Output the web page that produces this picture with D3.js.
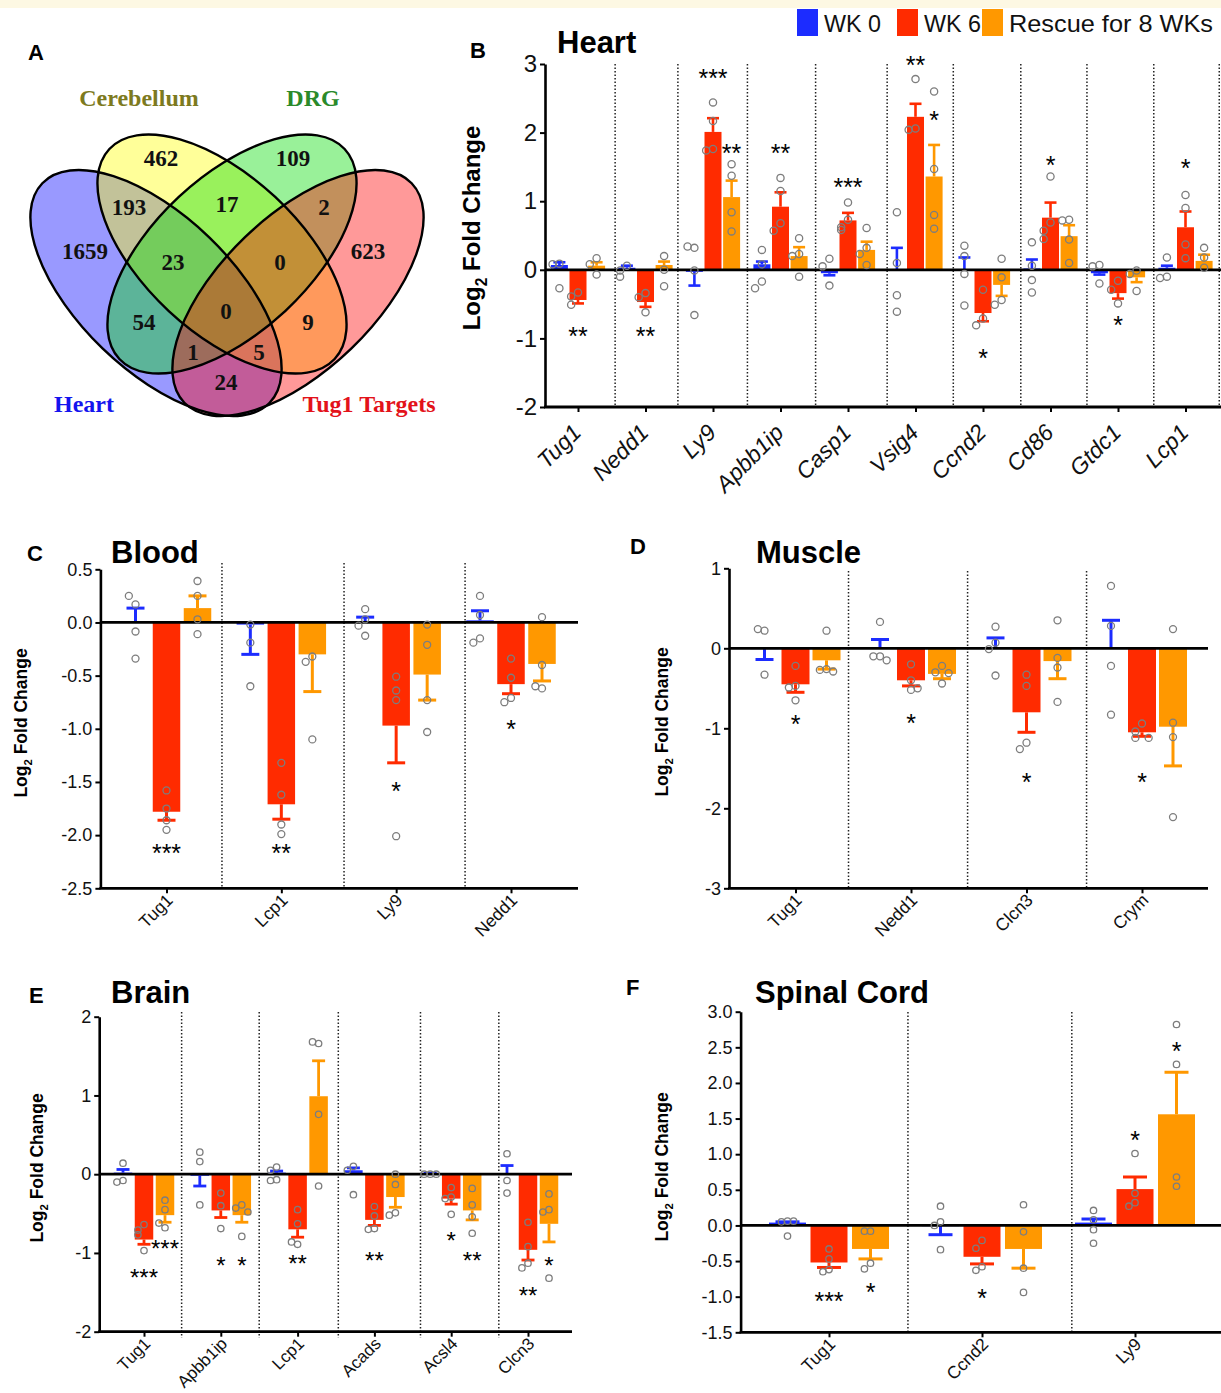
<!DOCTYPE html>
<html>
<head>
<meta charset="utf-8">
<script src="https://cdn.jsdelivr.net/npm/d3@7"></script>
<style>
  body { margin: 0; background: #fff; }
  svg { display: block; font-family: "Liberation Sans", Arial, sans-serif; }
</style>
</head>
<body>
<svg id="fig" width="1221" height="1393"></svg>
<script>
// ---------- shared ----------
var seriesNames = ["WK 0", "WK 6", "Rescue for 8 WKs"];
var seriesColors = ["#1c2cff", "#ff2b00", "#ff9800"];

// ---------- A: Venn ----------
var vennSets = ["Heart", "Cerebellum", "DRG", "Tug1 Targets"];
var vennRegions = ["H", "C", "D", "T", "HC", "CD", "DT", "HCD", "CDT", "HCDT", "HD", "CT", "HDT", "HCT", "HT"];
var vennCounts = [1659, 462, 109, 623, 193, 17, 2, 23, 0, 0, 54, 9, 1, 5, 24];

// ---------- B: Heart ----------
var heartGenes = ["Tug1", "Nedd1", "Ly9", "Apbb1ip", "Casp1", "Vsig4", "Ccnd2", "Cd86", "Gtdc1", "Lcp1"];
var heartWk0 = [0.07, 0.03, -0.03, 0.08, -0.05, 0.01, 0.01, 0.02, -0.05, 0.03];
var heartWk0Err = [0.11, 0.06, -0.23, 0.12, -0.08, 0.32, 0.18, 0.15, -0.07, 0.06];
var heartWk6 = [-0.44, -0.47, 2.01, 0.92, 0.72, 2.23, -0.63, 0.76, -0.34, 0.62];
var heartWk6Err = [-0.49, -0.54, 2.21, 1.13, 0.83, 2.42, -0.75, 0.98, -0.42, 0.85];
var heartRescue = [0.06, 0.07, 1.06, 0.20, 0.29, 1.36, -0.22, 0.49, -0.11, 0.13];
var heartRescueErr = [0.11, 0.12, 1.30, 0.33, 0.41, 1.82, -0.38, 0.65, -0.18, 0.22];
var heartWk0Dots = [[0.09, 0.08, -0.27], [0.06, -0.01, -0.10], [0.32, 0.34, -0.01, -0.66], [0.29, -0.17, -0.27, 0.08],
  [0.16, 0.05, -0.23], [0.84, 0.10, -0.37, -0.61], [0.35, 0.20, -0.06, -0.52], [0.40, 0.06, -0.15, -0.33],
  [0.07, 0.05, -0.20], [0.18, -0.10, -0.12]];
var heartWk6Dots = [[-0.33, -0.39, -0.51], [-0.34, -0.40, -0.62], [2.44, 2.17, 1.76, 1.74], [1.34, 1.15, 0.68, 0.57],
  [0.98, 0.73, 0.62, 0.58], [2.78, 2.06, 2.04], [-0.29, -0.71, -0.81], [1.36, 0.69, 0.57, 0.45],
  [-0.16, -0.29, -0.49], [1.09, 0.90, 0.37, 0.17]];
var heartRescueDots = [[0.17, 0.08, -0.07], [0.20, 0.00, -0.24], [1.54, 1.37, 0.84, 0.56], [0.46, 0.23, 0.20, -0.10],
  [0.61, 0.32, 0.23, 0.07], [2.60, 1.47, 0.80, 0.60], [0.16, -0.11, -0.44, -0.51], [0.73, 0.72, 0.44, 0.10],
  [-0.01, -0.06, -0.31], [0.32, 0.18, 0.03]];
// [gene index, series index, label, value]
var heartStars = [[0, 1, "**", -0.89], [1, 1, "**", -0.89], [2, 1, "***", 2.87], [2, 2, "**", 1.77], [3, 1, "**", 1.77],
  [4, 1, "***", 1.27], [5, 1, "**", 3.06], [5, 2, "*", 2.26], [6, 1, "*", -1.22], [7, 1, "*", 1.60], [8, 1, "*", -0.73], [9, 1, "*", 1.55]];
var heartSeparators = [0.55, 1.48, 2.51, 3.52, 4.58, 5.56, 6.56, 7.54, 8.53, 9.5];

// ---------- C: Blood ----------
var bloodGenes = ["Tug1", "Lcp1", "Ly9", "Nedd1"];
var bloodWk0 = [0.005, -0.02, 0.005, 0.02];
var bloodWk0Err = [0.135, -0.30, 0.05, 0.11];
var bloodWk6 = [-1.78, -1.71, -0.97, -0.58];
var bloodWk6Err = [-1.86, -1.85, -1.32, -0.67];
var bloodRescue = [0.135, -0.30, -0.49, -0.39];
var bloodRescueErr = [0.25, -0.65, -0.73, -0.55];
var bloodWk0Dots = [[0.17, 0.25, -0.085, -0.34], [-0.02, -0.19, -0.60], [0.125, 0.03, -0.03, -0.125], [0.25, 0.07, -0.15, -0.19]];
var bloodWk6Dots = [[-1.58, -1.75, -1.86, -1.95], [-1.32, -1.62, -1.90, -1.99], [-0.51, -0.64, -0.73, -2.01], [-0.34, -0.52, -0.71, -0.75]];
var bloodRescueDots = [[0.39, 0.25, 0.03, -0.11], [-0.32, -0.37, -1.10], [-0.02, -0.21, -0.73, -1.03], [0.05, -0.40, -0.62, -0.60]];
var bloodStars = [[0, 1, "***", -2.12], [1, 1, "**", -2.12], [2, 1, "*", -1.54], [3, 1, "*", -0.96]];
var bloodSeparators = [0.483, 1.546, 2.6];

// ---------- D: Muscle ----------
var muscleGenes = ["Tug1", "Nedd1", "Clcn3", "Crym"];
var muscleWk0 = [-0.01, 0.005, 0.005, 0.005];
var muscleWk0Err = [-0.14, 0.11, 0.13, 0.35];
var muscleWk6 = [-0.45, -0.40, -0.80, -1.05];
var muscleWk6Err = [-0.55, -0.47, -1.05, -1.10];
var muscleRescue = [-0.15, -0.32, -0.16, -0.98];
var muscleRescueErr = [-0.26, -0.38, -0.38, -1.47];
var muscleWk0Dots = [[0.22, 0.24, -0.33], [0.33, -0.10, -0.10, -0.15], [0.27, 0.07, -0.01, -0.34], [0.78, 0.28, -0.22, -0.83]];
var muscleWk6Dots = [[-0.22, -0.47, -0.49, -0.65], [-0.20, -0.40, -0.52, -0.50], [-0.33, -0.47, -1.18, -1.26], [-0.94, -1.04, -1.12, -1.12]];
var muscleRescueDots = [[0.22, -0.26, -0.27, -0.29], [-0.22, -0.30, -0.31, -0.44], [0.35, -0.12, -0.24, -0.67], [0.24, -0.93, -1.11, -2.11]];
var muscleStars = [[0, 1, "*", -0.89], [1, 1, "*", -0.88], [2, 1, "*", -1.61], [3, 1, "*", -1.61]];
var muscleSeparators = [0.459, 1.49, 2.52];

// ---------- E: Brain ----------
var brainGenes = ["Tug1", "Apbb1ip", "Lcp1", "Acads", "Acsl4", "Clcn3"];
var brainWk0 = [0.02, -0.02, 0.02, 0.05, 0.005, 0.005];
var brainWk0Err = [0.06, -0.15, 0.04, 0.08, 0.01, 0.11];
var brainWk6 = [-0.83, -0.46, -0.70, -0.58, -0.31, -0.96];
var brainWk6Err = [-0.89, -0.55, -0.80, -0.65, -0.38, -1.09];
var brainRescue = [-0.52, -0.52, 0.99, -0.29, -0.46, -0.63];
var brainRescueErr = [-0.61, -0.61, 1.44, -0.42, -0.58, -0.86];
var brainWk0Dots = [[0.14, -0.08, -0.10], [0.16, 0.28, -0.39], [0.09, 0.05, -0.07, -0.08], [0.10, 0.05, -0.26], [0.0, 0.0, 0.0], [0.26, -0.08, -0.24]];
var brainWk6Dots = [[-0.64, -0.71, -0.77, -0.97], [-0.24, -0.40, -0.69], [-0.45, -0.63, -0.89, -0.86], [-0.41, -0.53, -0.69, -0.70],
  [-0.17, -0.29, -0.31, -0.51], [-0.61, -0.92, -1.13, -1.19]];
var brainRescueDots = [[-0.33, -0.45, -0.68, -0.62], [-0.39, -0.43, -0.48, -0.79], [1.66, 1.68, 0.76, -0.15], [0.0, -0.13, -0.49, -0.52],
  [-0.18, -0.39, -0.54, -0.75], [-0.25, -0.45, -0.48, -1.32]];
var brainStars = [[0, 1, "***", -1.25], [0, 2, "***", -0.88], [1, 1, "*", -1.10], [1, 2, "*", -1.10], [2, 1, "**", -1.08],
  [3, 1, "**", -1.03], [4, 1, "*", -0.78], [4, 2, "**", -1.03], [5, 1, "**", -1.48], [5, 2, "*", -1.10]];
var brainSeparators = [0.49, 1.50, 2.53, 3.60, 4.62];

// ---------- F: Spinal Cord ----------
var spinalGenes = ["Tug1", "Ccnd2", "Ly9"];
var spinalWk0 = [0.04, -0.01, 0.04];
var spinalWk0Err = [0.05, -0.13, 0.09];
var spinalWk6 = [-0.52, -0.44, 0.51];
var spinalWk6Err = [-0.59, -0.54, 0.68];
var spinalRescue = [-0.33, -0.33, 1.56];
var spinalRescueErr = [-0.47, -0.60, 2.15];
var spinalWk0Dots = [[0.06, 0.05, 0.06, -0.15], [0.27, 0.05, 0.0, -0.34], [0.21, 0.08, -0.06, -0.25]];
var spinalWk6Dots = [[-0.33, -0.47, -0.62, -0.65], [-0.21, -0.32, -0.58, -0.63], [1.01, 0.45, 0.32, 0.27]];
var spinalRescueDots = [[-0.08, -0.08, -0.53, -0.61], [0.29, -0.09, -0.60, -0.94], [2.82, 2.26, 0.68, 0.55]];
var spinalStars = [[0, 1, "***", -1.0], [0, 2, "*", -0.87], [1, 1, "*", -0.95], [2, 1, "*", 1.27], [2, 2, "*", 2.52]];
var spinalSeparators = [0.516, 1.587];

var locale = d3.formatLocale({decimal: ".", thousands: ",", grouping: [3], currency: ["", ""], minus: "-"});
var svg = d3.select("#fig");

// pale strip along the top edge
svg.append("rect").attr("x", 0).attr("y", 0).attr("width", 1221).attr("height", 8).attr("fill", "#fdf8e3");

function panelLetter(x, y, t) {
  svg.append("text").attr("x", x).attr("y", y).attr("font-size", 22).attr("font-weight", "bold").text(t);
}

/**
 * Draws the Venn diagram of panel A.
 */
function drawVenn() {
  panelLetter(28, 60, "A");
  var ellipses = [
    {cx: 156, cy: 293, rx: 158, ry: 77, angle: 44, fill: "#0000ff"},
    {cx: 222, cy: 254, rx: 154, ry: 78, angle: 43, fill: "#ffff00"},
    {cx: 232, cy: 254, rx: 154, ry: 78, angle: 137, fill: "#00dd00"},
    {cx: 298, cy: 293, rx: 158, ry: 77, angle: 136, fill: "#ff0000"}
  ];
  var labelPos = [[84, 404, "#1414ee"], [139, 98, "#7d7a1e"], [313, 98, "#2a8a2a"], [369, 404, "#e3121a"]];
  var regionPos = {H: [85, 251], C: [161, 158], D: [293, 158], T: [368, 251], HC: [129, 207], CD: [227, 204], DT: [324, 207],
    HCD: [173, 262], CDT: [280, 262], HCDT: [226, 311], HD: [144, 322], CT: [308, 322], HDT: [193, 352], HCT: [259, 352], HT: [226, 382]};

  var g = svg.append("g");
  g.selectAll(".venn-fill").data(ellipses).join("ellipse")
    .attr("class", "venn-fill")
    .attr("transform", d => `translate(${d.cx},${d.cy}) rotate(${d.angle})`)
    .attr("rx", d => d.rx).attr("ry", d => d.ry)
    .attr("fill", d => d.fill).attr("fill-opacity", 0.4);
  g.selectAll(".venn-line").data(ellipses).join("ellipse")
    .attr("class", "venn-line")
    .attr("transform", d => `translate(${d.cx},${d.cy}) rotate(${d.angle})`)
    .attr("rx", d => d.rx).attr("ry", d => d.ry)
    .attr("fill", "none").attr("stroke", "#000").attr("stroke-width", 2.4);

  g.selectAll(".venn-count").data(vennRegions).join("text")
    .attr("x", d => regionPos[d][0]).attr("y", d => regionPos[d][1] + 8)
    .attr("text-anchor", "middle")
    .attr("font-family", "'Liberation Serif', 'Times New Roman', serif")
    .attr("font-weight", "bold").attr("font-size", 23).attr("fill", "#111")
    .text((d, i) => vennCounts[i]);

  g.selectAll(".venn-set").data(vennSets).join("text")
    .attr("x", (d, i) => labelPos[i][0]).attr("y", (d, i) => labelPos[i][1] + 8)
    .attr("text-anchor", "middle")
    .attr("font-family", "'Liberation Serif', 'Times New Roman', serif")
    .attr("font-weight", "bold").attr("font-size", 24)
    .attr("fill", (d, i) => labelPos[i][2])
    .text(d => d);
}

/**
 * Draws one grouped bar panel (mean, one sided error bar, points, stars).
 */
function drawPanel(cfg) {
  var y = d3.scaleLinear().domain(cfg.domain).range([cfg.yBottom, cfg.yTop]);
  var x = d3.scaleLinear().domain([0, cfg.genes.length - 1]).range([cfg.x0, cfg.x1]);
  var g = svg.append("g");

  panelLetter(cfg.letterPos[0], cfg.letterPos[1], cfg.letter);
  g.append("text").attr("x", cfg.titlePos[0]).attr("y", cfg.titlePos[1])
    .attr("font-size", 31).attr("font-weight", "bold").text(cfg.title);

  g.append("g").selectAll("line").data(cfg.separators).join("line")
    .attr("x1", d => x(d)).attr("x2", d => x(d))
    .attr("y1", cfg.sepTop).attr("y2", cfg.yBottom + cfg.sepBelow)
    .attr("stroke", "#222").attr("stroke-width", 1.5).attr("stroke-dasharray", "1.5,2");

  var rows = [];
  cfg.genes.forEach((gene, i) => {
    for (var s = 0; s < 3; s++) {
      rows.push({i: i, s: s, mean: cfg.means[s][i], err: cfg.errs[s][i], dots: cfg.dots[s][i]});
    }
  });
  var bx = d => x(d.i) + (d.s - 1) * cfg.barStep;

  g.append("g").selectAll("rect").data(rows).join("rect")
    .attr("x", d => bx(d) - cfg.barWidth / 2)
    .attr("width", cfg.barWidth)
    .attr("y", d => y(Math.max(0, d.mean)))
    .attr("height", d => Math.abs(y(d.mean) - y(0)))
    .attr("fill", d => seriesColors[d.s]);

  var eb = g.append("g").selectAll("g").data(rows).join("g")
    .attr("stroke", d => seriesColors[d.s]).attr("stroke-width", cfg.errWidth);
  eb.append("line")
    .attr("x1", bx).attr("x2", bx)
    .attr("y1", d => y(d.mean)).attr("y2", d => y(d.err));
  eb.append("line")
    .attr("x1", d => bx(d) - cfg.capWidth / 2).attr("x2", d => bx(d) + cfg.capWidth / 2)
    .attr("y1", d => y(d.err)).attr("y2", d => y(d.err));

  // zero line
  g.append("line").attr("x1", cfg.axisX).attr("x2", cfg.axisRight)
    .attr("y1", y(0)).attr("y2", y(0)).attr("stroke", "#000").attr("stroke-width", 2.8);

  // points: spread sideways only when they would overlap
  var pts = [];
  rows.forEach(r => {
    var placed = [];
    var order = [0, -1, 1, -2, 2];
    r.dots.forEach(v => {
      var py = y(v);
      var k = placed.filter(p => Math.abs(p - py) < cfg.dotR * 2.6).length;
      placed.push(py);
      pts.push({x: bx(r) + order[Math.min(k, 4)] * cfg.dotR * 1.9, y: py});
    });
  });
  g.append("g").selectAll("circle").data(pts).join("circle")
    .attr("cx", d => d.x).attr("cy", d => d.y).attr("r", cfg.dotR)
    .attr("fill", "none").attr("stroke", "#7d7d7d").attr("stroke-width", 1.3);

  g.append("g").selectAll("text").data(cfg.stars).join("text")
    .attr("x", d => x(d[0]) + (d[1] - 1) * cfg.barStep)
    .attr("y", d => y(d[3]) + cfg.starFont * 0.55)
    .attr("text-anchor", "middle").attr("font-size", cfg.starFont)
    .text(d => d[2]);

  // y axis
  var yAxis = g.append("g")
    .attr("transform", `translate(${cfg.axisX},0)`)
    .call(d3.axisLeft(y).tickValues(cfg.ticks).tickFormat(locale.format(cfg.tickFormat)).tickSize(5).tickSizeOuter(0).tickPadding(3));
  yAxis.select(".domain").attr("stroke-width", 2.6);
  yAxis.selectAll(".tick line").attr("stroke-width", 2);
  yAxis.selectAll("text").attr("font-size", cfg.tickFont).attr("font-family", "'Liberation Sans', Arial, sans-serif").attr("fill", "#111");

  // x axis
  var xAxis = g.append("g")
    .attr("transform", `translate(0,${cfg.yBottom})`)
    .call(d3.axisBottom(x).tickValues(d3.range(cfg.genes.length)).tickFormat(i => cfg.genes[i]).tickSize(5).tickSizeOuter(0));
  xAxis.select(".domain").remove();
  xAxis.append("line").attr("x1", cfg.axisX - 1).attr("x2", cfg.axisRight).attr("stroke", "#000").attr("stroke-width", 2.8);
  xAxis.selectAll(".tick line").attr("stroke-width", 2);
  xAxis.selectAll("text")
    .attr("x", 0).attr("y", 0).attr("dy", 0)
    .attr("transform", `translate(${cfg.labelDx},${cfg.labelDy}) rotate(-45)`)
    .attr("text-anchor", "end")
    .attr("font-size", cfg.labelFont)
    .attr("font-style", cfg.italic ? "italic" : "normal")
    .attr("font-family", "'Liberation Sans', Arial, sans-serif")
    .attr("fill", "#111");

  // y title with subscript
  var yt = g.append("text")
    .attr("transform", `translate(${cfg.yTitle[0]},${cfg.yTitle[1]}) rotate(-90)`)
    .attr("text-anchor", "middle").attr("font-weight", "bold").attr("font-size", cfg.yTitleFont);
  yt.append("tspan").text("Log");
  yt.append("tspan").attr("font-size", cfg.yTitleFont * 0.65).attr("dy", cfg.yTitleFont * 0.3).text("2");
  yt.append("tspan").attr("dy", -cfg.yTitleFont * 0.3).text(" Fold Change");
}

function drawLegend() {
  var swatchX = [797, 897, 982];
  var textWidth = [57, 57, 204];
  seriesNames.forEach((name, i) => {
    svg.append("rect").attr("x", swatchX[i]).attr("y", 9).attr("width", 21).attr("height", 27).attr("fill", seriesColors[i]);
    svg.append("text").attr("x", swatchX[i] + 27).attr("y", 32).attr("font-size", 24).attr("fill", "#111")
      .attr("textLength", textWidth[i]).attr("lengthAdjust", "spacingAndGlyphs").text(name);
  });
}

drawVenn();
drawLegend();

drawPanel({letter: "B", title: "Heart", letterPos: [470, 58], titlePos: [557, 53], genes: heartGenes,
  means: [heartWk0, heartWk6, heartRescue], errs: [heartWk0Err, heartWk6Err, heartRescueErr],
  dots: [heartWk0Dots, heartWk6Dots, heartRescueDots], stars: heartStars, separators: heartSeparators,
  domain: [-2, 3], ticks: [-2, -1, 0, 1, 2, 3], tickFormat: "d",
  yTop: 64, yBottom: 407, axisX: 545, axisRight: 1221, x0: 578, x1: 1185.5, sepTop: 64, sepBelow: 0,
  barStep: 18.6, barWidth: 17, capWidth: 12, errWidth: 2.6, dotR: 3.6, starFont: 25,
  tickFont: 24, labelFont: 23, italic: true, labelDx: 4, labelDy: 27, yTitle: [480, 228], yTitleFont: 24});

drawPanel({letter: "C", title: "Blood", letterPos: [27, 561], titlePos: [111, 563], genes: bloodGenes,
  means: [bloodWk0, bloodWk6, bloodRescue], errs: [bloodWk0Err, bloodWk6Err, bloodRescueErr],
  dots: [bloodWk0Dots, bloodWk6Dots, bloodRescueDots], stars: bloodStars, separators: bloodSeparators,
  domain: [-2.5, 0.5], ticks: [-2.5, -2, -1.5, -1, -0.5, 0, 0.5], tickFormat: ".1f",
  yTop: 569.3, yBottom: 888.3, axisX: 100.4, axisRight: 578, x0: 166.5, x1: 511, sepTop: 563, sepBelow: 0,
  barStep: 31, barWidth: 27.5, capWidth: 18, errWidth: 3, dotR: 3.5, starFont: 25,
  tickFont: 18, labelFont: 17.5, italic: false, labelDx: 7, labelDy: 13, yTitle: [27, 723], yTitleFont: 17.5});

drawPanel({letter: "D", title: "Muscle", letterPos: [630, 554], titlePos: [756, 563], genes: muscleGenes,
  means: [muscleWk0, muscleWk6, muscleRescue], errs: [muscleWk0Err, muscleWk6Err, muscleRescueErr],
  dots: [muscleWk0Dots, muscleWk6Dots, muscleRescueDots], stars: muscleStars, separators: muscleSeparators,
  domain: [-3, 1], ticks: [-3, -2, -1, 0, 1], tickFormat: "d",
  yTop: 568.3, yBottom: 888.3, axisX: 729, axisRight: 1208, x0: 795.5, x1: 1142, sepTop: 571, sepBelow: 0,
  barStep: 31, barWidth: 28, capWidth: 18, errWidth: 3, dotR: 3.5, starFont: 25,
  tickFont: 18, labelFont: 17.5, italic: false, labelDx: 7, labelDy: 13, yTitle: [668, 722], yTitleFont: 17.5});

drawPanel({letter: "E", title: "Brain", letterPos: [29, 1003], titlePos: [111, 1003], genes: brainGenes,
  means: [brainWk0, brainWk6, brainRescue], errs: [brainWk0Err, brainWk6Err, brainRescueErr],
  dots: [brainWk0Dots, brainWk6Dots, brainRescueDots], stars: brainStars, separators: brainSeparators,
  domain: [-2, 2], ticks: [-2, -1, 0, 1, 2], tickFormat: "d",
  yTop: 1016.7, yBottom: 1331.7, axisX: 99.2, axisRight: 572, x0: 144, x1: 528, sepTop: 1012, sepBelow: 6,
  barStep: 21, barWidth: 18.5, capWidth: 13, errWidth: 2.8, dotR: 3.2, starFont: 24,
  tickFont: 18, labelFont: 17, italic: false, labelDx: 7, labelDy: 13, yTitle: [43, 1168], yTitleFont: 17.5});

drawPanel({letter: "F", title: "Spinal Cord", letterPos: [626, 995], titlePos: [755, 1003], genes: spinalGenes,
  means: [spinalWk0, spinalWk6, spinalRescue], errs: [spinalWk0Err, spinalWk6Err, spinalRescueErr],
  dots: [spinalWk0Dots, spinalWk6Dots, spinalRescueDots], stars: spinalStars, separators: spinalSeparators,
  domain: [-1.5, 3], ticks: [-1.5, -1, -0.5, 0, 0.5, 1, 1.5, 2, 2.5, 3], tickFormat: ".1f",
  yTop: 1011.7, yBottom: 1332.3, axisX: 740.6, axisRight: 1221, x0: 829, x1: 1135, sepTop: 1012, sepBelow: 0,
  barStep: 41.5, barWidth: 37, capWidth: 24, errWidth: 3, dotR: 3.2, starFont: 25,
  tickFont: 18, labelFont: 17.5, italic: false, labelDx: 7, labelDy: 13, yTitle: [668, 1167], yTitleFont: 17.5});
</script>
</body>
</html>
